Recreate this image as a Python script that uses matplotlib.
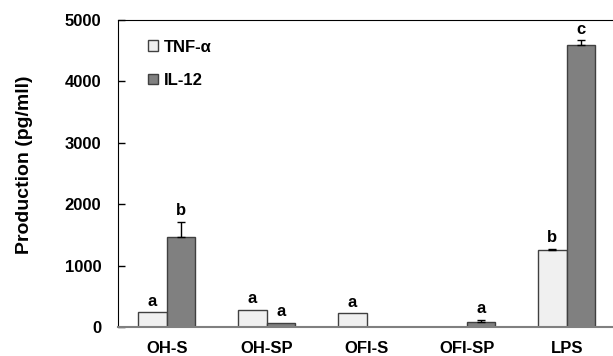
import numpy as np
import matplotlib.pyplot as plt

# data
groups = ["OH-S", "OH-SP", "OFI-S", "OFI-SP", "LPS"]
tnf = [240, 277, 223, 0, 1262]
tnf_err = [0, 0, 0, 0, 15]
il12 = [1462, 65, 0, 82, 4597]
il12_err = [250, 0, 0, 40, 70]
tnf_letters = ["a", "a", "a", "", "b"]
il12_letters = ["b", "a", "", "a", "c"]

plt.rcParams['font.family'] = ['Liberation Sans', 'DejaVu Sans']
plt.rcParams['font.weight'] = 'bold'

fig = plt.figure(figsize=(6.13, 3.56), dpi=100)
ax = fig.add_axes([118 / 613, 1 - 327 / 356, 495 / 613, 307 / 356])

x = np.arange(len(groups))
w = 0.285
edge = '#404040'

ax.bar(x - w / 2, tnf, w, color='#f0f0f0', edgecolor=edge, linewidth=1.0,
       label='TNF-α', zorder=2)
ax.bar(x + w / 2, il12, w, color='#808080', edgecolor=edge, linewidth=1.0,
       label='IL-12', zorder=2)

# error bars (upper side only)
for xs, vals, errs in [(x - w / 2, tnf, tnf_err), (x + w / 2, il12, il12_err)]:
    for xi, v, e in zip(xs, vals, errs):
        if e > 0:
            ax.errorbar(xi, v, yerr=[[0], [e]], fmt='none', ecolor='black',
                        elinewidth=1, capsize=3, capthick=1, zorder=3)

# significance letters
for xs, vals, errs, letters in [(x - w / 2, tnf, tnf_err, tnf_letters),
                                (x + w / 2, il12, il12_err, il12_letters)]:
    for xi, v, e, s in zip(xs, vals, errs, letters):
        if s:
            ax.text(xi, v + e + 60, s, ha='center', va='bottom', fontsize=12,
                    fontweight='bold')

ax.set_xlim(-0.487, 4.463)
ax.set_ylim(0, 5000)
ax.set_yticks([0, 1000, 2000, 3000, 4000, 5000])
ax.set_xticks(x)
ax.set_xticklabels(groups)
ax.tick_params(axis='y', direction='in', length=5, width=1, labelsize=12, pad=12)
ax.tick_params(axis='x', length=0, labelsize=12, pad=10)
for lab in ax.get_xticklabels() + ax.get_yticklabels():
    lab.set_fontweight('bold')

ax.spines['right'].set_visible(False)
ax.spines['left'].set_color('black')
ax.spines['top'].set_color('black')
ax.spines['bottom'].set_color('#808080')
ax.spines['bottom'].set_linewidth(1.5)

ax.set_ylabel('Production (pg/mll)', fontsize=14, fontweight='bold')
ax.yaxis.set_label_coords(-0.172, 0.528)

leg = ax.legend(loc='upper left', bbox_to_anchor=(0.03, 0.985), frameon=False,
                fontsize=12, handlelength=0.6, handleheight=0.6,
                handletextpad=0.35, labelspacing=1.1)
for t in leg.get_texts():
    t.set_fontweight('bold')

fig.savefig('out.png', dpi=100)
